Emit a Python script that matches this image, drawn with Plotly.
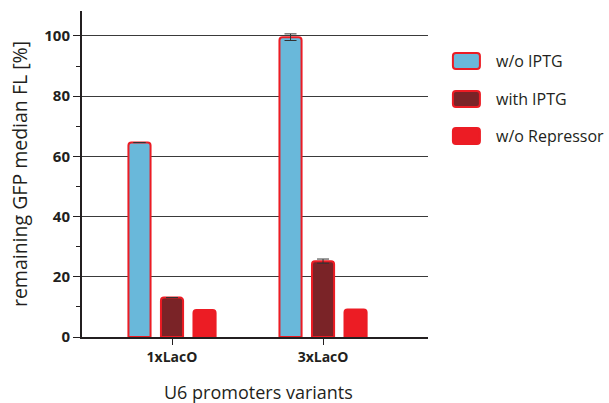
import plotly.graph_objects as go

# Promoter variants and measured remaining fluorescence (% of control)
categories = ["1xLacO", "3xLacO"]
wo_iptg = [64.6, 99.6]
wo_iptg_err = [0, 1.1]
with_iptg = [13.1, 25.2]
with_iptg_err = [0, 0.7]
wo_repressor = [9.0, 9.1]
series_names = ["w/o IPTG", "with IPTG", "w/o Repressor"]
y_ticks = [0, 20, 40, 60, 80, 100]

BLUE = "#69b8da"
DARK = "#7a2327"
RED = "#ec1c24"
FONT = "Open Sans"

fig = go.Figure()
fig.add_trace(go.Bar(
    x=categories, y=wo_iptg, name=series_names[0],
    marker=dict(color=BLUE, line=dict(color=RED, width=2)),
    error_y=dict(type="data", array=wo_iptg_err, color="#333333", thickness=1, width=6),
))
fig.add_trace(go.Bar(
    x=categories, y=with_iptg, name=series_names[1],
    marker=dict(color=DARK, line=dict(color=RED, width=2)),
    error_y=dict(type="data", array=with_iptg_err, color="#333333", thickness=1, width=6),
))
fig.add_trace(go.Bar(
    x=categories, y=wo_repressor, name=series_names[2],
    marker=dict(color=RED, line=dict(color=RED, width=2)),
))

fig.update_layout(
    width=609, height=403,
    margin=dict(l=82, r=181, t=11, b=66),
    paper_bgcolor="white", plot_bgcolor="white",
    barmode="group", bargap=0.354, bargroupgap=0.32,
    barcornerradius=3,
    showlegend=False,
    font=dict(family=FONT, color="#231f20"),
)

fig.update_xaxes(
    range=[-0.596, 1.695],
    showline=True, linecolor="#231f20", linewidth=2,
    ticks="outside", ticklen=6, tickcolor="#231f20", tickwidth=1,
    tickfont=dict(family=FONT, size=14, weight="bold"),
    showgrid=False, zeroline=False,
)
fig.update_yaxes(
    range=[0, 108.3],
    tickvals=y_ticks,
    showline=True, linecolor="#231f20", linewidth=2,
    ticks="outside", ticklen=7, tickcolor="#231f20", tickwidth=1,
    minor=dict(dtick=10, tick0=0, ticks="outside", ticklen=4, tickcolor="#231f20", showgrid=False),
    tickfont=dict(family=FONT, size=15, weight="bold"),
    showgrid=True, gridcolor="#3a3a3a", gridwidth=1,
    zeroline=False,
    title=dict(text="remaining GFP median FL [%]", font=dict(family=FONT, size=19.5), standoff=11),
)

# x-axis title placed below the tick labels
fig.add_annotation(
    xref="paper", yref="paper", x=0.51, y=0, yshift=-55,
    text="U6 promoters variants", showarrow=False,
    xanchor="center", yanchor="middle",
    font=dict(family=FONT, size=18, color="#231f20"),
)

# Hand-drawn legend with rounded swatches
legend_fills = [BLUE, DARK, RED]
legend_rows = [0.822, 0.7055, 0.592]


def rounded_rect(w, h, r):
    return (f"M {r},0 L {w - r},0 Q {w},0 {w},{r} L {w},{h - r} Q {w},{h} {w - r},{h} "
            f"L {r},{h} Q 0,{h} 0,{h - r} L 0,{r} Q 0,0 {r},0 Z")


for name, fill, yrow in zip(series_names, legend_fills, legend_rows):
    fig.add_shape(
        type="path", xref="paper", yref="paper",
        xsizemode="pixel", ysizemode="pixel",
        xanchor=1.072, yanchor=yrow,
        path=rounded_rect(27, 16, 3),
        fillcolor=fill, line=dict(color=RED, width=2),
    )
    fig.add_annotation(
        xref="paper", yref="paper", x=1.19, y=yrow, yshift=8,
        text=name, showarrow=False, xanchor="left", yanchor="middle",
        font=dict(family=FONT, size=16, color="#231f20"),
    )

fig.write_html("out.html")
